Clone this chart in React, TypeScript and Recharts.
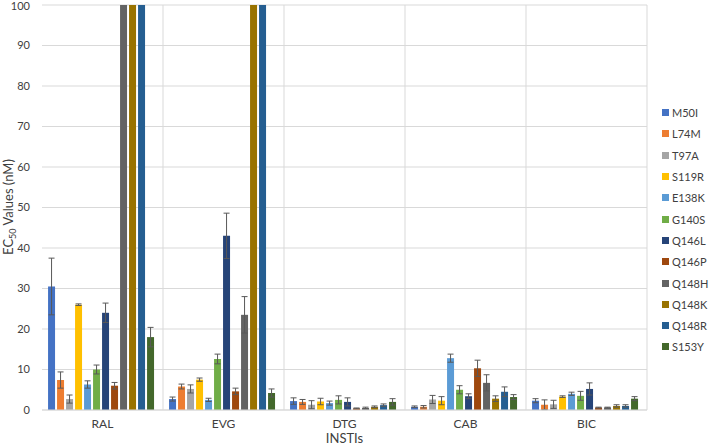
import { BarChart, Bar, XAxis, YAxis, CartesianGrid, ErrorBar } from 'recharts';

const categories = ['RAL', 'EVG', 'DTG', 'CAB', 'BIC'];
const mutations = ['M50I', 'L74M', 'T97A', 'S119R', 'E138K', 'G140S', 'Q146L', 'Q146P', 'Q148H', 'Q148K', 'Q148R', 'S153Y'];
const colors = ['#4472C4', '#ED7D31', '#A5A5A5', '#FFC000', '#5B9BD5', '#70AD47', '#264478', '#9E480E', '#636363', '#997300', '#255E91', '#43682B'];

// EC50 per mutation, one array per drug; >100 values are off the scale
const ralValues = [30.5, 7.4, 2.7, 26, 6.3, 10, 24, 6, 120, 120, 120, 18];
const ralErrors = [7, 2, 1, 0.2, 0.9, 1.1, 2.4, 0.8, 0, 0, 0, 2.4];
const evgValues = [2.7, 5.8, 5.2, 7.5, 2.5, 12.6, 43, 4.6, 23.5, 120, 120, 4.2];
const evgErrors = [0.5, 0.6, 1, 0.4, 0.4, 1.2, 5.6, 0.8, 4.5, 0, 0, 1];
const dtgValues = [2.2, 2, 1.3, 2.1, 1.7, 2.5, 2, 0.4, 0.5, 0.8, 1.2, 2];
const dtgErrors = [0.8, 0.6, 1, 0.8, 0.5, 1, 1, 0.1, 0.2, 0.2, 0.3, 0.8];
const cabValues = [0.8, 0.8, 2.6, 2.3, 12.8, 5, 3.4, 10.3, 6.7, 2.8, 4.5, 3.2];
const cabErrors = [0.2, 0.3, 1, 1, 1, 1, 0.6, 2, 2, 0.7, 1.2, 0.6];
const bicValues = [2.3, 1.3, 1.4, 3.3, 4, 3.5, 5.2, 0.6, 0.6, 1, 1, 2.8];
const bicErrors = [0.5, 1.2, 1, 0.2, 0.4, 1.1, 1.5, 0.1, 0.1, 0.3, 0.3, 0.5];

const yTicks = [0, 10, 20, 30, 40, 50, 60, 70, 80, 90, 100];

const valueSets = [ralValues, evgValues, dtgValues, cabValues, bicValues];
const errorSets = [ralErrors, evgErrors, dtgErrors, cabErrors, bicErrors];

const data = categories.map((name, ci) => {
  const row: Record<string, string | number> = { name };
  mutations.forEach((m, mi) => {
    row[m] = valueSets[ci][mi];
    row[m + '_err'] = errorSets[ci][mi];
  });
  return row;
});

const FONT = 'Lato, "Open Sans", sans-serif';

function YLabel() {
  return (
    <text
      x={13}
      y={207}
      transform="rotate(-90 13 207)"
      textAnchor="middle"
      fill="#404040"
      fontSize={13}
      fontFamily={FONT}
    >
      EC<tspan fontSize={9} dy={3}>50</tspan>
      <tspan dy={-3}> Values (nM)</tspan>
    </text>
  );
}

export default function App() {
  return (
    <div style={{ position: 'fixed', left: 0, top: 0, width: 709, height: 446, background: '#fff' }}>
      <BarChart
        width={709}
        height={446}
        data={data}
        margin={{ top: 5, right: 62, left: 0, bottom: 0 }}
        barCategoryGap="5%"
        barGap={2}
      >
        <CartesianGrid
          stroke="#d9d9d9"
          verticalCoordinatesGenerator={({ offset }: any) =>
            categories.map((_, i) => offset.left + (offset.width * (i + 1)) / categories.length)
          }
        />
        <XAxis
          dataKey="name"
          height={36}
          tickLine={false}
          axisLine={{ stroke: '#d9d9d9' }}
          tick={{ fill: '#404040', fontSize: 12, fontFamily: FONT }}
          tickMargin={3}
          label={{ value: 'INSTIs', position: 'insideBottom', offset: 3, fill: '#404040', fontSize: 13, fontFamily: FONT }}
        />
        <YAxis
          width={42}
          domain={[0, 100]}
          ticks={yTicks}
          allowDataOverflow
          tickLine={false}
          axisLine={false}
          tick={{ fill: '#404040', fontSize: 11, fontFamily: FONT }}
          tickMargin={6}
          label={<YLabel />}
        />
        {mutations.map((m, i) => (
          <Bar key={m} dataKey={m} fill={colors[i]} isAnimationActive={false}>
            <ErrorBar dataKey={m + '_err'} width={3} stroke="#595959" strokeWidth={1} />
          </Bar>
        ))}
      </BarChart>
      <div
        style={{
          position: 'absolute',
          left: 662,
          top: 102,
          fontFamily: FONT,
          fontSize: 11,
          color: '#404040',
        }}
      >
        {mutations.map((m, i) => (
          <div key={m} style={{ display: 'flex', alignItems: 'center', height: 21.3, whiteSpace: 'nowrap' }}>
            <span style={{ display: 'inline-block', width: 7, height: 7, background: colors[i], marginRight: 3 }} />
            {m}
          </div>
        ))}
      </div>
    </div>
  );
}
